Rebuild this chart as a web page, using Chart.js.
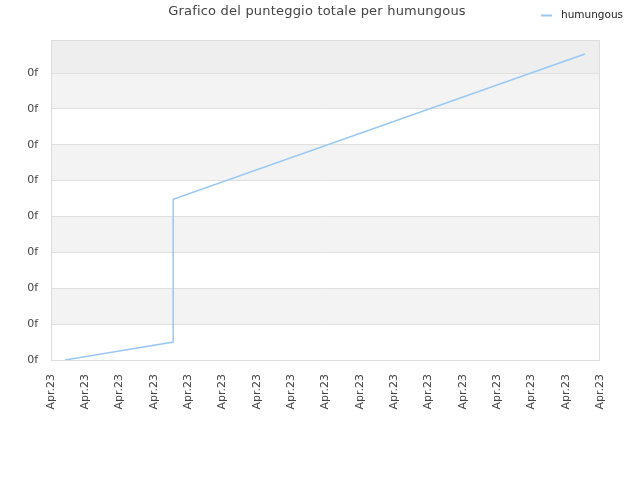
<!DOCTYPE html>
<html>
<head>
<meta charset="utf-8">
<script src="https://cdn.jsdelivr.net/npm/chart.js@4/dist/chart.umd.min.js"></script>
<style>
html,body{margin:0;padding:0;background:#fff;}
#wrap{width:640px;height:480px;position:relative;}
</style>
</head>
<body>
<div id="wrap"><canvas id="c" width="640" height="480"></canvas></div>
<script>
// ---- data ----
const chartTitle = "Grafico del punteggio totale per humungous";
const seriesName = "humungous";
const xTickLabel = "Apr.23";
const yTickLabel = "0f";
const xValues = [0.41, 3.56, 3.56, 15.56];
const yValues = [0, 0.5, 4.48, 8.53];

const points = xValues.map((x, i) => ({x: x, y: yValues[i]}));
const FONT = "'DejaVu Sans', Verdana, sans-serif";

const bgPlugin = {
  id: 'bands',
  beforeDraw(chart) {
    const {ctx, chartArea: a, scales: {y}} = chart;
    ctx.save();
    ctx.fillStyle = '#fff';
    ctx.fillRect(0, 0, chart.width, chart.height);
    const ticks = y.ticks.map(t => t.value);
    for (let i = 0; i < ticks.length; i++) {
      const v0 = ticks[i];
      const top = i + 1 < ticks.length ? y.getPixelForValue(ticks[i + 1]) : a.top;
      const bot = y.getPixelForValue(v0);
      if (i === ticks.length - 1) ctx.fillStyle = '#eeeeee';
      else ctx.fillStyle = (i % 2 === 1) ? '#f3f3f3' : '#ffffff';
      ctx.fillRect(a.left, top, a.right - a.left, bot - top);
    }
    ctx.restore();
  },
  afterDraw(chart) {
    const {ctx, chartArea: a} = chart;
    ctx.save();
    ctx.strokeStyle = '#dddddd';
    ctx.lineWidth = 1;
    ctx.strokeRect(a.left + 0.5, a.top + 0.5, a.right - a.left - 1, a.bottom - a.top);
    // title
    ctx.fillStyle = '#444';
    ctx.font = "13px " + FONT;
    try { ctx.letterSpacing = '0.2px'; } catch (e) {}
    ctx.textAlign = 'center';
    ctx.textBaseline = 'middle';
    ctx.fillText(chartTitle, 317, 12);
    try { ctx.letterSpacing = '0px'; } catch (e) {}
    // legend
    ctx.strokeStyle = '#99c8f5';
    ctx.lineWidth = 2;
    ctx.beginPath();
    ctx.moveTo(541, 15.5);
    ctx.lineTo(552, 15.5);
    ctx.stroke();
    ctx.fillStyle = '#222';
    ctx.font = "10.5px " + FONT;
    ctx.textAlign = 'left';
    ctx.fillText(seriesName, 561, 15);
    ctx.restore();
  }
};

new Chart(document.getElementById('c'), {
  type: 'line',
  data: {
    datasets: [{
      label: seriesName,
      data: points,
      borderColor: '#99c8f5',
      backgroundColor: '#99c8f5',
      borderWidth: 1.5,
      pointRadius: 0,
      tension: 0,
      fill: false
    }]
  },
  options: {
    responsive: false,
    animation: false,
    devicePixelRatio: 1,
    layout: {padding: {top: 40, right: 40, left: 0, bottom: 0}},
    plugins: {legend: {display: false}, title: {display: false}, tooltip: {enabled: false}},
    scales: {
      x: {
        type: 'linear',
        min: 0, max: 16,
        afterFit(s) { s.height = 120; },
        grid: {display: false},
        border: {display: false},
        ticks: {
          stepSize: 1,
          autoSkip: false,
          maxRotation: 90, minRotation: 90,
          padding: 6,
          color: '#444',
          font: {family: FONT, size: 11},
          callback: () => xTickLabel
        }
      },
      y: {
        type: 'linear',
        min: 0, max: 8.92,
        afterFit(s) { s.width = 51; },
        afterBuildTicks(s) { s.ticks = s.ticks.filter(t => Math.abs(t.value - Math.round(t.value)) < 1e-6); },
        grid: {color: '#e0e0e0', drawTicks: false, lineWidth: 1},
        border: {display: false},
        ticks: {
          stepSize: 1,
          padding: 13,
          color: '#444',
          font: {family: FONT, size: 11},
          callback: () => yTickLabel
        }
      }
    }
  },
  plugins: [bgPlugin]
});
</script>
</body>
</html>
